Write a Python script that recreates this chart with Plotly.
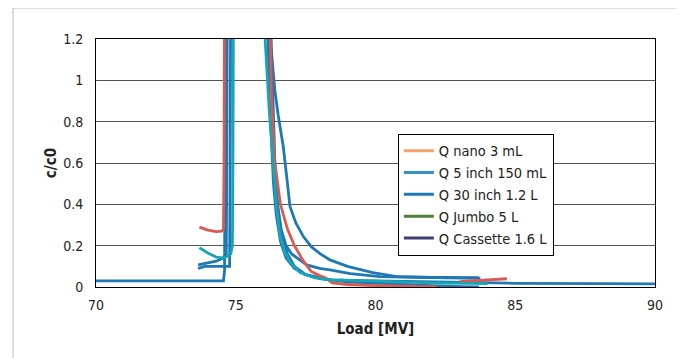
import plotly.graph_objects as go

# ---- data ----
nano_x = [73.7, 74.0, 74.3, 74.5, 74.56, 74.58, 74.6, None,
          76.2, 76.28, 76.4, 76.6, 76.85, 77.1, 77.4, 77.7, 78.0, 78.2, 78.45, 79.0, 79.7, 81.0, 82.2, None,
          83.0, 84.0, 84.7]
nano_y = [0.29, 0.275, 0.268, 0.27, 0.28, 0.6, 1.5, None,
          1.5, 0.9, 0.6, 0.4, 0.28, 0.2, 0.13, 0.075, 0.055, 0.045, 0.02, 0.012, 0.008, 0.003, 0.0, None,
          0.026, 0.034, 0.04]

teal_x = [73.7, 74.0, 74.3, 74.6, 74.82, 74.88, 74.9, 74.92, None,
          76.0, 76.05, 76.2, 76.33, 76.45, 76.58, 76.75, 76.95, 77.3, 77.8, 78.4, 80.0, 82.0, 84.0]
teal_y = [0.19, 0.165, 0.145, 0.14, 0.16, 0.2, 0.6, 1.5, None,
          1.5, 1.2, 0.85, 0.6, 0.4, 0.25, 0.17, 0.12, 0.07, 0.045, 0.034, 0.028, 0.02, 0.016]

base_x = [70.0, 72.0, 74.56, 74.6, 74.62, 74.64, None,
          76.1, 76.15, 76.25, 76.35, 76.45, 76.6, 76.8, 77.1, 77.5, 78.4, 80.0, 82.0, 85.0, 88.0, 90.0]
base_y = [0.03, 0.03, 0.03, 0.08, 0.6, 1.5, None,
          1.5, 1.2, 0.8, 0.5, 0.35, 0.22, 0.14, 0.09, 0.06, 0.034, 0.03, 0.026, 0.018, 0.016, 0.015]

blueA_x = [73.65, 74.0, 74.3, 74.55, 74.66, 74.68, 74.7, None,
           76.2, 76.22, 76.3, 76.34, 76.4, 76.52, 76.7, 76.85, 76.94, 77.15, 77.42, 77.7, 78.0,
           78.37, 79.0, 79.9, 80.76, 82.0, 83.62, 83.75]
blueA_y = [0.107, 0.115, 0.125, 0.14, 0.16, 0.6, 1.5, None,
           1.5, 1.2, 1.1, 1.02, 0.95, 0.83, 0.68, 0.5, 0.39, 0.31, 0.244, 0.195, 0.163,
           0.131, 0.1, 0.07, 0.05, 0.046, 0.042, 0.042]

blueB_x = [73.65, 73.9, 74.2, 74.5, 74.78, 74.8, 74.82, None,
           76.15, 76.25, 76.32, 76.4, 76.5, 76.62, 76.8, 77.0, 77.54, 78.0, 78.37, 79.1, 80.16, 82.0, 83.7]
blueB_y = [0.09, 0.1, 0.1, 0.1, 0.1, 0.6, 1.5, None,
           1.5, 1.0, 0.7, 0.5, 0.38, 0.28, 0.2, 0.16, 0.107, 0.09, 0.083, 0.065, 0.05, 0.046, 0.045]

blueD_x = [76.2, 76.3, 76.4, 76.5, 76.65, 76.85, 77.1, 77.5, 78.0, 79.0, 80.0, 81.0, 82.0, 83.1, 83.7]
blueD_y = [1.5, 1.0, 0.6, 0.4, 0.25, 0.16, 0.1, 0.06, 0.04, 0.025, 0.018, 0.012, 0.007, 0.002, 0.0]

legend_names = ["Q nano 3 mL", "Q 5 inch 150 mL", "Q 30 inch 1.2 L", "Q Jumbo 5 L", "Q Cassette 1.6 L"]
legend_colors = ["#F9A26C", "#3A8FCB", "#1F7AB5", "#4F7F3A", "#3D3F6E"]

x_ticks = [70, 75, 80, 85, 90]
y_ticks = [0, 0.2, 0.4, 0.6, 0.8, 1, 1.2]

RED = "#D95A52"
TEAL = "#16A6B6"
BLUE = "#1F78B4"

FONT = "Liberation Sans Narrow, DejaVu Sans Condensed, Arial Narrow, sans-serif"

fig = go.Figure()
W = 2.8
for xs, ys, col in [(base_x, base_y, BLUE), (blueA_x, blueA_y, BLUE), (blueB_x, blueB_y, BLUE),
                    (blueD_x, blueD_y, BLUE), (nano_x, nano_y, RED), (teal_x, teal_y, TEAL)]:
    fig.add_trace(go.Scatter(x=xs, y=ys, mode="lines", line=dict(color=col, width=W),
                             showlegend=False, hoverinfo="skip", connectgaps=False))

for name, col in zip(legend_names, legend_colors):
    fig.add_trace(go.Scatter(x=[None], y=[None], mode="lines", name=name,
                             line=dict(color=col, width=3)))

fig.update_layout(
    width=684, height=358,
    margin=dict(l=88, r=37, t=31, b=79),
    paper_bgcolor="white", plot_bgcolor="white",
    font=dict(family=FONT, size=14, color="#222"),
    legend=dict(x=0.54, y=0.618, xanchor="left", yanchor="top",
                bgcolor="white", bordercolor="black", borderwidth=1,
                font=dict(family=FONT, size=14.5, color="#222"),
                tracegroupgap=0, itemwidth=30),
    xaxis=dict(range=[70, 90], tickvals=x_ticks, showgrid=False, zeroline=False,
               showline=True, linecolor="black", linewidth=1, mirror=True,
               ticks="outside", ticklen=5, tickcolor="rgba(0,0,0,0)",
               title=dict(text="<b>Load [MV]</b>", font=dict(family=FONT, size=15), standoff=11)),
    yaxis=dict(range=[0, 1.2], tickvals=y_ticks, showgrid=True, gridcolor="#555", gridwidth=1,
               zeroline=False, showline=True, linecolor="black", linewidth=1, mirror=True,
               ticks="outside", ticklen=9, tickcolor="rgba(0,0,0,0)",
               title=dict(text="<b>c/c0</b>", font=dict(family=FONT, size=15), standoff=2)),
    shapes=[dict(type="rect", xref="paper", yref="paper", x0=-0.1485, x1=1.0465, y0=-0.32, y1=1.125,
                 line=dict(color="#BBBBBB", width=1), layer="below")],
)

fig.write_html("out.html")
